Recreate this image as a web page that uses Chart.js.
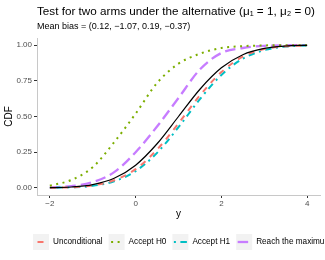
<!DOCTYPE html>
<html>
<head>
<meta charset="utf-8">
<script src="https://cdn.jsdelivr.net/npm/chart.js@4.4.1/dist/chart.umd.min.js"></script>
<style>
  html, body { margin: 0; padding: 0; background: #fff; }
  #wrap { width: 325px; height: 260px; }
</style>
</head>
<body>
<div id="wrap"><canvas id="cdfChart"></canvas></div>
<script>
// values
const yGrid = [-2, -1.5, -1, -0.5, 0, 0.5, 1, 1.5, 2, 2.5, 3, 3.5, 4];
const truthCdf      = [0.001, 0.006, 0.023, 0.067, 0.159, 0.309, 0.500, 0.691, 0.841, 0.933, 0.977, 0.994, 0.999];
const unconditional = [0.001, 0.004, 0.017, 0.053, 0.131, 0.268, 0.452, 0.648, 0.811, 0.920, 0.972, 0.992, 0.998];
const acceptH0      = [0.015, 0.055, 0.145, 0.320, 0.520, 0.735, 0.870, 0.940, 0.980, 0.993, 0.998, 1.000, 1.000];
const acceptH1      = [0.001, 0.004, 0.014, 0.046, 0.117, 0.245, 0.425, 0.622, 0.791, 0.905, 0.965, 0.990, 0.998];
const reachMax      = [0.003, 0.012, 0.040, 0.110, 0.250, 0.430, 0.630, 0.830, 0.945, 0.980, 0.995, 0.999, 1.000];
const xTicks = [-2, 0, 2, 4];
const yTicks = [0, 0.25, 0.5, 0.75, 1];
const seriesNames = ['Unconditional', 'Accept H0', 'Accept H1', 'Reach the maximum'];

const FONT = '"Liberation Sans", Arial, sans-serif';

function pts(vals) {
  return yGrid.map((x, i) => ({ x: x, y: vals[i] }));
}

function line(label, vals, color, dash, width, inLegend, keyOffset) {
  return {
    label: label,
    data: pts(vals),
    borderColor: color,
    borderDash: dash,
    borderWidth: width,
    pointRadius: 0,
    fill: false,
    cubicInterpolationMode: 'monotone',
    inLegend: inLegend,
    keyOffset: keyOffset || 0
  };
}

// title, subtitle and the bottom legend, drawn by hand like ggplot
const ggDecor = {
  id: 'ggDecor',
  beforeDraw(chart) {
    const ctx = chart.ctx;
    ctx.save();
    ctx.fillStyle = '#fff';
    ctx.fillRect(0, 0, chart.width, chart.height);
    ctx.restore();
  },
  afterDraw(chart) {
    const ctx = chart.ctx;
    const left = chart.chartArea.left;
    ctx.save();
    ctx.fillStyle = '#000';
    ctx.textBaseline = 'alphabetic';
    ctx.textAlign = 'left';
    ctx.font = '11.7px ' + FONT;
    ctx.fillText('Test for two arms under the alternative (\u03bc\u2081 = 1, \u03bc\u2082 = 0)', left, 15);
    ctx.font = '9px ' + FONT;
    ctx.fillText('Mean bias = (0.12, \u22121.07, 0.19, \u22120.37)', left, 29);

    // legend
    const cy = 242;
    let x = 33;
    ctx.font = '8.2px ' + FONT;
    ctx.textBaseline = 'middle';
    chart.data.datasets.filter(d => d.inLegend).forEach(d => {
      ctx.fillStyle = '#f2f2f2';
      ctx.fillRect(x, cy - 8, 16, 16);
      ctx.strokeStyle = d.borderColor;
      ctx.lineWidth = d.borderWidth;
      ctx.setLineDash(d.borderDash);
      ctx.lineDashOffset = d.keyOffset;
      ctx.beginPath();
      ctx.moveTo(x + 1.5, cy);
      ctx.lineTo(x + 14.5, cy);
      ctx.stroke();
      ctx.setLineDash([]);
      ctx.fillStyle = '#000';
      ctx.fillText(d.label, x + 20, cy);
      x += 20 + ctx.measureText(d.label).width + 6;
    });
    ctx.restore();
  }
};

const chart = new Chart(document.getElementById('cdfChart'), {
  type: 'line',
  data: {
    datasets: [
      line('Truth', truthCdf, '#000000', [], 1.2, false),
      line(seriesNames[0], unconditional, '#F8766D', [6, 6], 2, true, 9),
      line(seriesNames[1], acceptH0, '#7CAE00', [2, 4.5], 2, true, -1),
      line(seriesNames[2], acceptH1, '#00BFC4', [2, 4.5, 6.5, 4.5], 2, true, 0),
      line(seriesNames[3], reachMax, '#C77CFF', [10.5, 5], 2.3, true, 0)
    ]
  },
  options: {
    responsive: true,
    maintainAspectRatio: false,
    animation: false,
    layout: { padding: { top: 38, right: 5, bottom: 40, left: 0 } },
    scales: {
      x: {
        type: 'linear',
        min: -2.3,
        max: 4.3,
        afterBuildTicks: s => { s.ticks = xTicks.map(v => ({ value: v })); },
        afterFit: s => { s.height = 25; },
        grid: { drawOnChartArea: false, drawTicks: true, tickLength: 3, tickColor: '#333' },
        border: { color: '#c8c8c8', width: 1 },
        ticks: {
          color: '#4d4d4d',
          font: { family: FONT, size: 8 },
          padding: 1,
          callback: v => (v < 0 ? '\u2212' + Math.abs(v) : String(v))
        },
        title: { display: true, text: 'y', color: '#000', font: { family: FONT, size: 10 }, padding: { top: 1, bottom: 0 } }
      },
      y: {
        min: -0.05,
        max: 1.05,
        afterBuildTicks: s => { s.ticks = yTicks.map(v => ({ value: v })); },
        afterFit: s => { s.width = 37; },
        grid: { drawOnChartArea: false, drawTicks: true, tickLength: 3, tickColor: '#333' },
        border: { color: '#c8c8c8', width: 1 },
        ticks: {
          color: '#4d4d4d',
          font: { family: FONT, size: 8 },
          padding: 2,
          callback: v => v.toFixed(2)
        },
        title: { display: true, text: 'CDF', color: '#000', font: { family: FONT, size: 10 }, padding: { top: 3, bottom: 0 } }
      }
    },
    plugins: {
      legend: { display: false },
      title: { display: false },
      tooltip: { enabled: false }
    }
  },
  plugins: [ggDecor]
});
</script>
</body>
</html>
